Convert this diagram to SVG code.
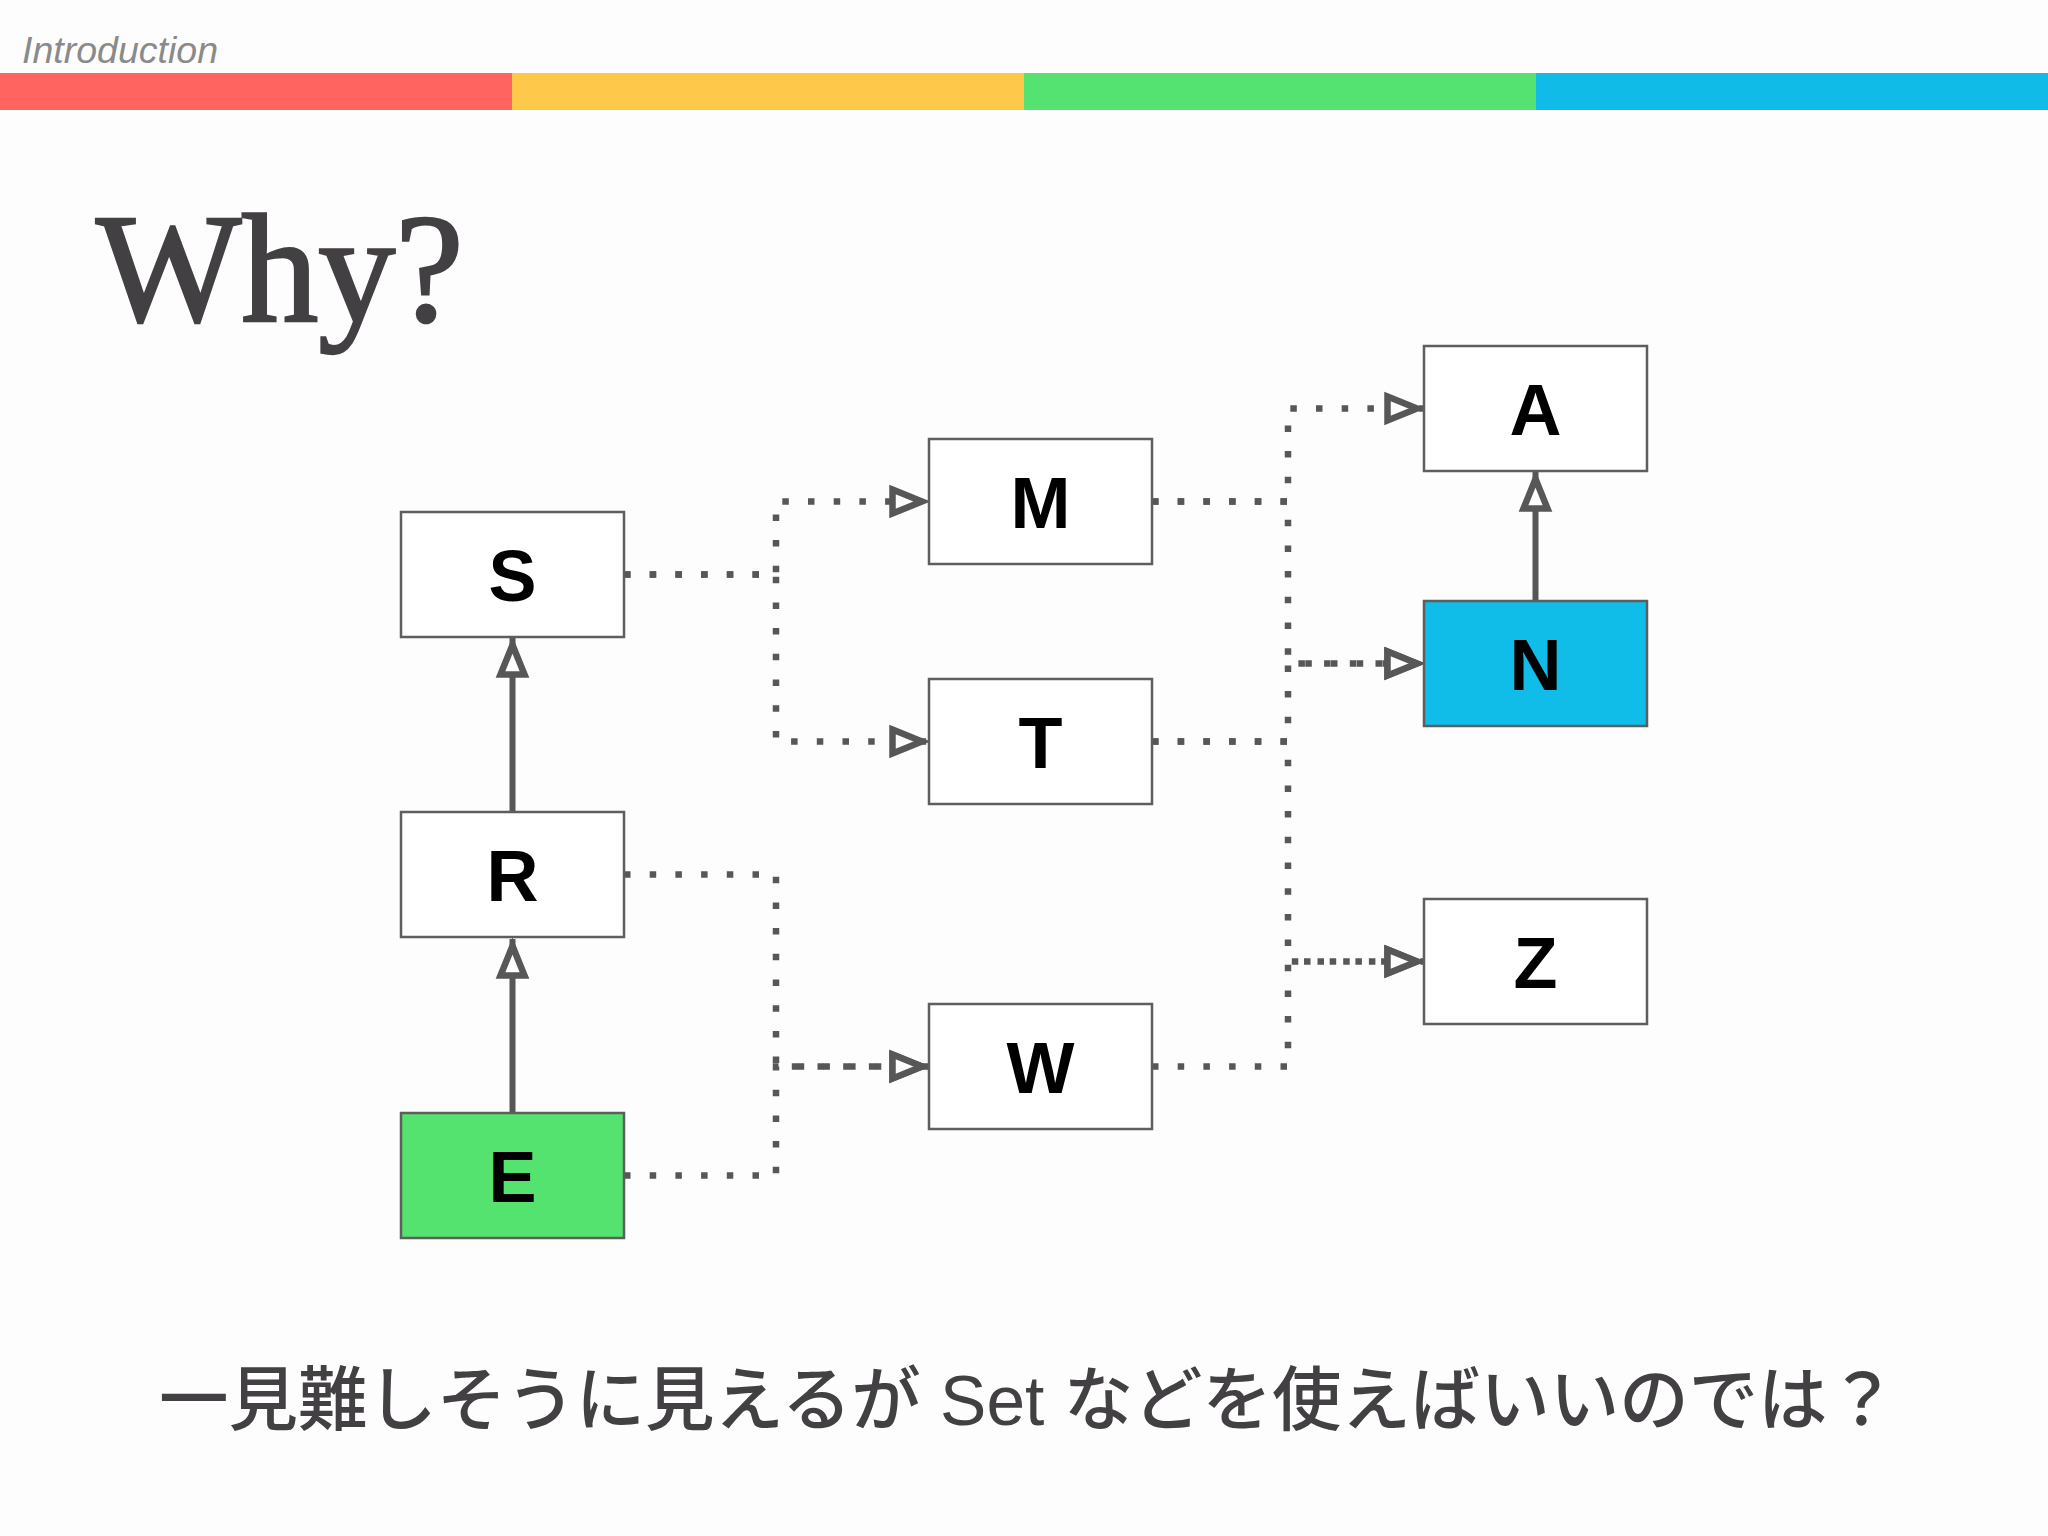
<svg xmlns="http://www.w3.org/2000/svg" width="2048" height="1536" viewBox="0 0 2048 1536">
<style>
.box{stroke:#5e5e5e;stroke-width:2.5}
.lbl{font-family:"Liberation Sans",Arial,sans-serif;font-weight:bold;font-size:72px;fill:#000;text-anchor:middle}
.solid{fill:none;stroke:#575757;stroke-width:6}
.dot{fill:none;stroke:#575757;stroke-width:6.5;stroke-dasharray:6.5 19.2}
</style>
<defs>
<marker id="tri" markerWidth="46" markerHeight="36" refX="40" refY="18" orient="auto" markerUnits="userSpaceOnUse" overflow="visible">
<path d="M3.5,6 L33,18 L3.5,30 Z" fill="#fdfdfd" stroke="#575757" stroke-width="6.5" stroke-linejoin="miter"/>
</marker>
</defs>
<rect x="0" y="0" width="2048" height="1536" fill="#fdfdfd"/>
<g id="header">
<text x="22" y="63" font-family="'Liberation Sans',sans-serif" font-style="italic" font-size="36" fill="#8a8a8a" textLength="196" lengthAdjust="spacingAndGlyphs">Introduction</text>
<rect x="0" y="73" width="512" height="37" fill="#ff6461"/>
<rect x="512" y="73" width="512" height="37" fill="#fec84a"/>
<rect x="1024" y="73" width="512" height="37" fill="#54e370"/>
<rect x="1536" y="73" width="512" height="37" fill="#10bbe8"/>
</g>
<text id="title" x="96" y="321" font-family="'Liberation Serif',serif" font-size="154" fill="#434043" stroke="#434043" stroke-width="2.5">Why?</text>
<g id="connectors">
<path class="solid" d="M512.5,812 L512.5,638" marker-end="url(#tri)"/>
<path class="solid" d="M512.5,1113 L512.5,939" marker-end="url(#tri)"/>
<path class="solid" d="M1535.5,601 L1535.5,472" marker-end="url(#tri)"/>
<path class="dot" d="M624,574.5 H776 V501.5 H929" marker-end="url(#tri)"/>
<path class="dot" d="M624,574.5 H776 V741.5 H929" marker-end="url(#tri)"/>
<path class="dot" d="M624,874.5 H776 V1066.5 H929" marker-end="url(#tri)"/>
<path class="dot" d="M624,1175.5 H776 V1066.5 H929" marker-end="url(#tri)"/>
<path class="dot" d="M1152,501.5 H1288 V408.5 H1424" marker-end="url(#tri)"/>
<path class="dot" d="M1152,501.5 H1288 V663.5 H1424" marker-end="url(#tri)"/>
<path class="dot" d="M1152,741.5 H1288 V663.5 H1424" marker-end="url(#tri)"/>
<path class="dot" d="M1152,741.5 H1288 V961.5 H1424" marker-end="url(#tri)"/>
<path class="dot" d="M1152,1066.5 H1288 V961.5 H1424" marker-end="url(#tri)"/>
</g>
<g id="node-S"><rect class="box" x="401" y="512" width="223" height="125" fill="#fff"/><text class="lbl" x="512.5" y="600.5">S</text></g>
<g id="node-R"><rect class="box" x="401" y="812" width="223" height="125" fill="#fff"/><text class="lbl" x="512.5" y="900.5">R</text></g>
<g id="node-E"><rect class="box" x="401" y="1113" width="223" height="125" fill="#55e36f"/><text class="lbl" x="512.5" y="1201.5">E</text></g>
<g id="node-M"><rect class="box" x="929" y="439" width="223" height="125" fill="#fff"/><text class="lbl" x="1040.5" y="527.5">M</text></g>
<g id="node-T"><rect class="box" x="929" y="679" width="223" height="125" fill="#fff"/><text class="lbl" x="1040.5" y="767.5">T</text></g>
<g id="node-W"><rect class="box" x="929" y="1004" width="223" height="125" fill="#fff"/><text class="lbl" x="1040.5" y="1092.5">W</text></g>
<g id="node-A"><rect class="box" x="1424" y="346" width="223" height="125" fill="#fff"/><text class="lbl" x="1535.5" y="434.5">A</text></g>
<g id="node-N"><rect class="box" x="1424" y="601" width="223" height="125" fill="#10bde8"/><text class="lbl" x="1535.5" y="689.5">N</text></g>
<g id="node-Z"><rect class="box" x="1424" y="899" width="223" height="125" fill="#fff"/><text class="lbl" x="1535.5" y="987.5">Z</text></g>
<text id="caption" x="159" y="1425" font-family="'Liberation Sans','Noto Sans CJK JP',sans-serif" font-size="70" font-weight="500" fill="#434043" textLength="1738" lengthAdjust="spacingAndGlyphs">一見難しそうに見えるが Set などを使えばいいのでは？</text>
</svg>
